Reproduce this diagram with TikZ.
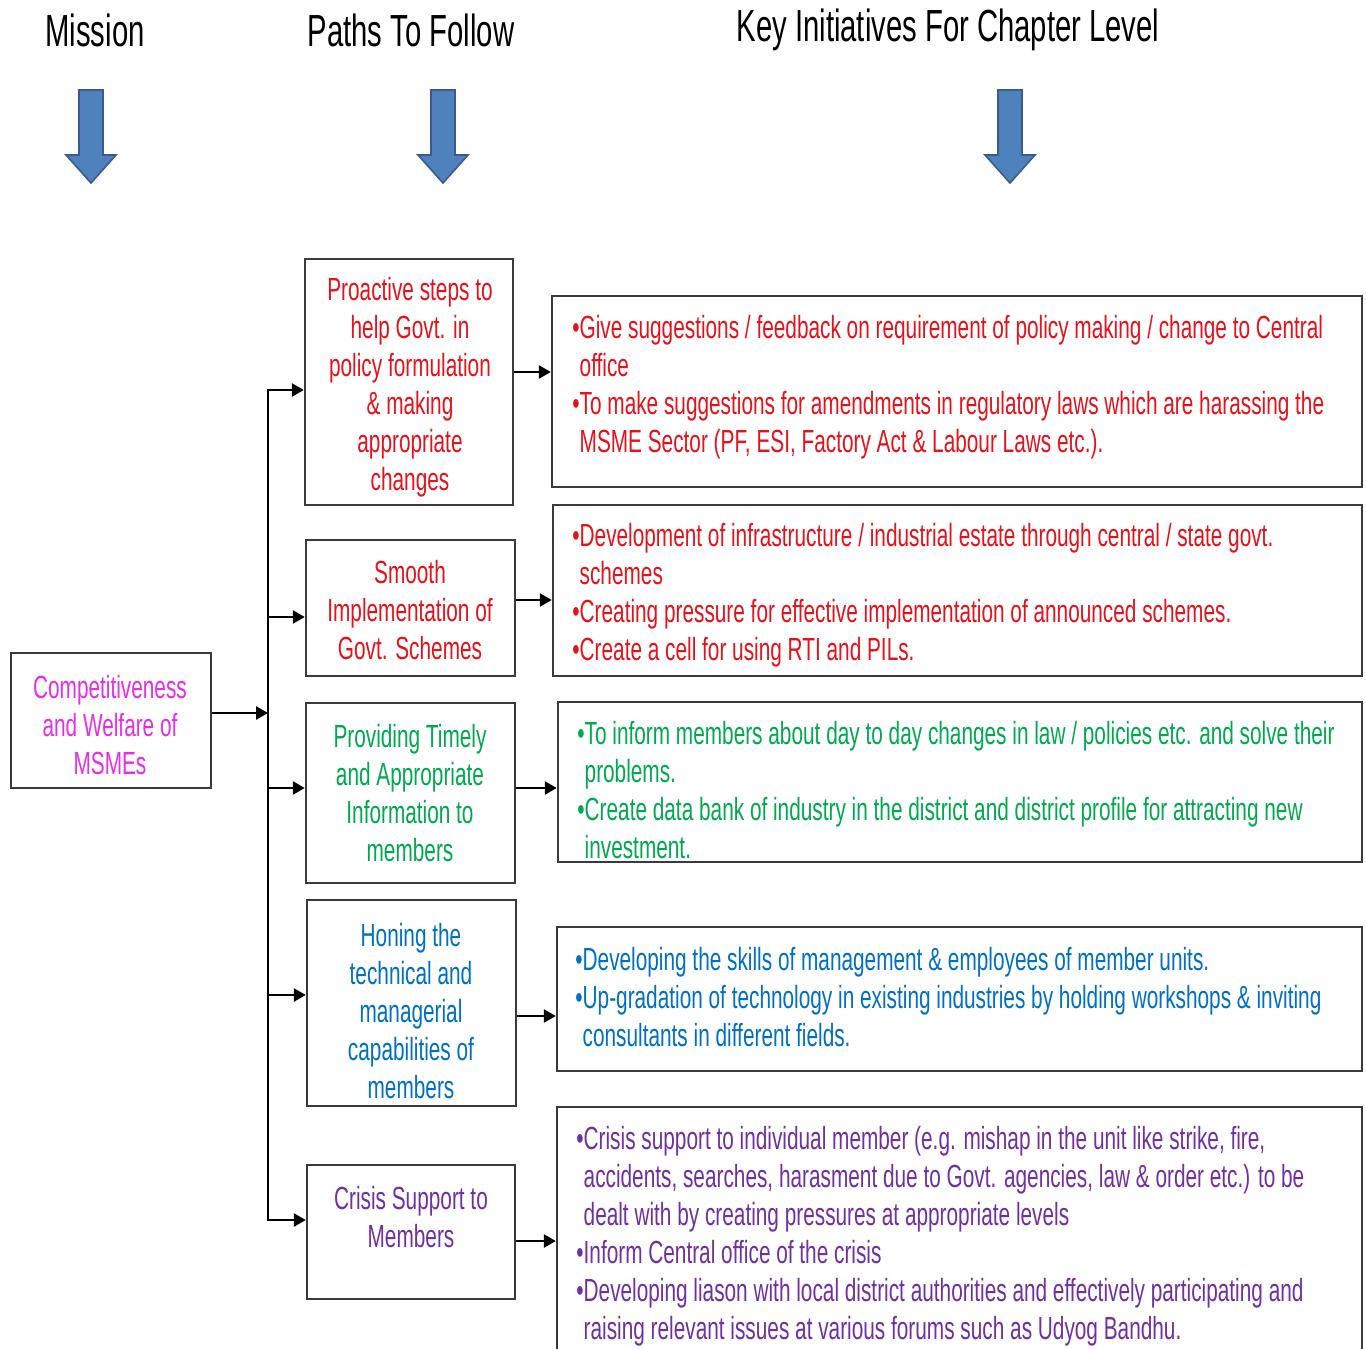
\documentclass[tikz,border=0pt]{standalone}
\usepackage{fontspec}
\setmainfont{Liberation Sans}[FakeStretch=0.65]
\usetikzlibrary{arrows.meta}
\definecolor{txtred}{HTML}{E3121B}
\definecolor{txtmag}{HTML}{E62EE6}
\definecolor{txtgreen}{HTML}{00A850}
\definecolor{txtblue}{HTML}{0070C0}
\definecolor{txtpurple}{HTML}{7030A0}
\definecolor{boxline}{HTML}{3A3A3A}
\definecolor{arrowblue}{HTML}{4F81BD}
\definecolor{arrowedge}{HTML}{385D8A}
\newcommand{\bul}{\textbullet}
\newcommand{\cont}{\phantom{\textbullet}}
\begin{document}
\begin{tikzpicture}[x=0.5pt,y=-0.5pt,
  box/.style={draw=boxline,line width=1.2pt,fill=white,inner sep=0pt},
  conn/.style={line width=1.3pt,-{Triangle[length=6pt,width=6.5pt]}},
  busline/.style={line width=1.3pt,line cap=rect},
  ptext/.style={align=center,font=\fontsize{16}{19}\selectfont,inner sep=0pt},
  itext/.style={align=left,font=\fontsize{16}{19}\selectfont,anchor=west,inner sep=0pt},
  head/.style={font=\fontsize{22.5}{26}\selectfont,inner sep=0pt},
  blockarrow/.style={fill=arrowblue,draw=arrowedge,line width=0.8pt,line join=miter}
]
\clip (0,0) rectangle (1366,1349);
\fill[white] (0,0) rectangle (1366,1349);

% column headings and their block arrows
\node[head] (h1) at (95,30) {Mission};
\node[head] (h2) at (411,30) {Paths To Follow};
\node[head] (h3) at (948,30) {Key Initiatives For Chapter Level};
\foreach \cx in {91,443,1010}
  \draw[blockarrow] (\cx-12,90) -- (\cx+12,90) -- (\cx+12,155) -- (\cx+25,155)
    -- (\cx,183) -- (\cx-25,155) -- (\cx-12,155) -- cycle;

% mission
\node[box,minimum width=100pt,minimum height=67.5pt] (m) at (111,720.5) {};
\node[ptext,text=txtmag] (mt) at (110,725) {Competitiveness\\and Welfare of\\MSMEs};

% paths to follow
\node[box,minimum width=104pt,minimum height=123pt] (p1) at (409,382) {};
\node[box,minimum width=104.5pt,minimum height=68pt] (p2) at (410.5,608) {};
\node[box,minimum width=104.5pt,minimum height=90pt] (p3) at (410.5,793) {};
\node[box,minimum width=104.5pt,minimum height=103pt] (p4) at (411.5,1003) {};
\node[box,minimum width=104pt,minimum height=67pt] (p5) at (411,1232) {};

\node[ptext,text=txtred] (p1t) at (410,387)
  {Proactive steps to\\help Govt. in\\policy formulation\\\& making\\appropriate\\changes};
\node[ptext,text=txtred] (p2t) at (410,610)
  {Smooth\\Implementation of\\Govt. Schemes};
\node[ptext,text=txtgreen] (p3t) at (410,793)
  {Providing Timely\\and Appropriate\\Information to\\members};
\node[ptext,text=txtblue] (p4t) at (411,1011)
  {Honing the\\technical and\\managerial\\capabilities of\\members};
\node[ptext,text=txtpurple] (p5t) at (411,1217)
  {Crisis Support to\\Members};

% key initiatives
\node[box,minimum width=405pt,minimum height=95.5pt] (i1) at (957,391.5) {};
\node[box,minimum width=404.5pt,minimum height=85.5pt] (i2) at (957.5,590.5) {};
\node[box,minimum width=402pt,minimum height=80pt] (i3) at (960,782) {};
\node[box,minimum width=402.5pt,minimum height=72pt] (i4) at (959.5,999) {};
\node[box,minimum width=402.5pt,minimum height=129pt] (i5) at (959.5,1236) {};

\node[itext,text=txtred] (i1t) at (572,387)
  {\bul Give suggestions / feedback on requirement of policy making / change to Central\\
   \cont office\\
   \bul To make suggestions for amendments in regulatory laws which are harassing the\\
   \cont MSME Sector (PF, ESI, Factory Act \& Labour Laws etc.).};
\node[itext,text=txtred] (i2t) at (572,595)
  {\bul Development of infrastructure / industrial estate through central / state govt.\\
   \cont schemes\\
   \bul Creating pressure for effective implementation of announced schemes.\\
   \bul Create a cell for using RTI and PILs.};
\node[itext,text=txtgreen] (i3t) at (577,790)
  {\bul To inform members about day to day changes in law / policies etc. and solve their\\
   \cont problems.\\
   \bul Create data bank of industry in the district and district profile for attracting new\\
   \cont investment.};
\node[itext,text=txtblue] (i4t) at (575,997)
  {\bul Developing the skills of management \& employees of member units.\\
   \bul Up-gradation of technology in existing industries by holding workshops \& inviting\\
   \cont consultants in different fields.};
\node[itext,text=txtpurple] (i5t) at (576,1236)
  {\bul Crisis support to individual member (e.g. mishap in the unit like strike, fire,\\
   \cont accidents, searches, harasment due to Govt. agencies, law \& order etc.) to be\\
   \cont dealt with by creating pressures at appropriate levels\\
   \bul Inform Central office of the crisis\\
   \bul Developing liason with local district authorities and effectively participating and\\
   \cont raising relevant issues at various forums such as Udyog Bandhu.};

% connectors
\coordinate (j0) at (268,713);
\coordinate (j1) at (268,390);
\coordinate (j2) at (268,617);
\coordinate (j3) at (268,788);
\coordinate (j4) at (268,995);
\coordinate (j5) at (268,1220);
\draw[busline] (j1) -- (j5);
\draw[conn] (m.east |- j0) -- (j0);
\draw[conn] (j1) -- (p1.west |- j1);
\draw[conn] (j2) -- (p2.west |- j2);
\draw[conn] (j3) -- (p3.west |- j3);
\draw[conn] (j4) -- (p4.west |- j4);
\draw[conn] (j5) -- (p5.west |- j5);

\coordinate (a1) at (530,372);
\coordinate (a2) at (530,600);
\coordinate (a3) at (530,788);
\coordinate (a4) at (530,1016);
\coordinate (a5) at (530,1241);
\draw[conn] (p1.east |- a1) -- (i1.west |- a1);
\draw[conn] (p2.east |- a2) -- (i2.west |- a2);
\draw[conn] (p3.east |- a3) -- (i3.west |- a3);
\draw[conn] (p4.east |- a4) -- (i4.west |- a4);
\draw[conn] (p5.east |- a5) -- (i5.west |- a5);
\end{tikzpicture}
\end{document}
